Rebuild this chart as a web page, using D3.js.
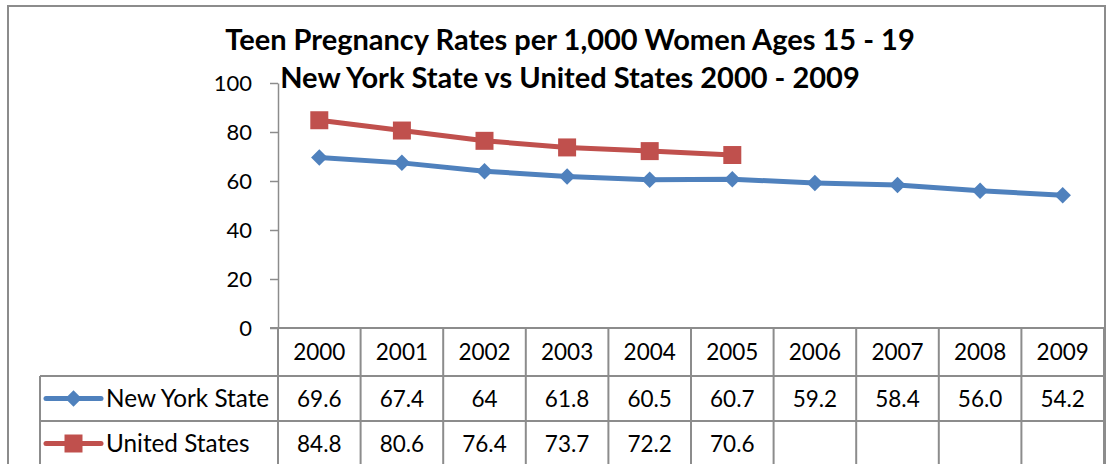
<!DOCTYPE html>
<html>
<head>
<meta charset="utf-8">
<script src="https://cdn.jsdelivr.net/npm/d3@7"></script>
<style>
  html, body { margin: 0; padding: 0; background: #fff; }
  svg { display: block; }
  text { font-family: Lato, "Open Sans", sans-serif; fill: #000; }
</style>
</head>
<body>
<svg id="chart" width="1110" height="464"></svg>
<script>
const titleLines = ["Teen Pregnancy Rates per 1,000 Women Ages 15 - 19",
                    "New York State vs United States 2000 - 2009"];
const years = ["2000","2001","2002","2003","2004","2005","2006","2007","2008","2009"];
const seriesNames = ["New York State", "United States"];
const nyValues = [69.6, 67.4, 64, 61.8, 60.5, 60.7, 59.2, 58.4, 56.0, 54.2];
const usValues = [84.8, 80.6, 76.4, 73.7, 72.2, 70.6, null, null, null, null];
const nyLabels = ["69.6","67.4","64","61.8","60.5","60.7","59.2","58.4","56.0","54.2"];
const usLabels = ["84.8","80.6","76.4","73.7","72.2","70.6","","","",""];
const yTicks = [0, 20, 40, 60, 80, 100];

const colors = ["#4F81BD", "#C0504D"];
const gridColor = "#8C8C8C";

const svg = d3.select("#chart");

const plotLeft = 278, plotRight = 1104, plotTop = 83, plotBottom = 328;
const rowH = [48, 45, 45];

const x = d3.scaleBand().domain(years).range([plotLeft, plotRight]);
const y = d3.scaleLinear().domain([0, 100]).range([plotBottom, plotTop]);

// outer border
svg.append("rect").attr("x", 8).attr("y", 6).attr("width", 1097).attr("height", 500)
  .attr("fill", "none").attr("stroke", "#8C8C8C").attr("stroke-width", 2);

// title
const title = svg.append("g");
title.selectAll("text").data(titleLines).join("text")
  .attr("x", 570).attr("y", (d, i) => 50 + i * 38)
  .attr("text-anchor", "middle")
  .attr("font-weight", "bold").attr("font-size", 29)
  .text(d => d);

// y axis
const yAxis = svg.append("g").attr("transform", `translate(${plotLeft},0)`)
  .call(d3.axisLeft(y).tickValues(yTicks).tickSize(8).tickPadding(18).tickSizeOuter(0));
yAxis.select(".domain").attr("stroke", gridColor).attr("stroke-width", 1.5);
yAxis.selectAll(".tick line").attr("stroke", gridColor).attr("stroke-width", 1.5);
yAxis.selectAll(".tick text").attr("font-size", 22).attr("font-family", "Lato").attr("fill", "#000");

// table lines
const tbl = svg.append("g").attr("stroke", gridColor).attr("stroke-width", 2);
const rowTop = [plotBottom, plotBottom + rowH[0], plotBottom + rowH[0] + rowH[1]];
const tableBottom = rowTop[2] + rowH[2];
tbl.append("line").attr("x1", plotLeft - 8).attr("x2", plotRight).attr("y1", plotBottom).attr("y2", plotBottom);
tbl.selectAll("line.h").data([rowTop[1], rowTop[2], tableBottom]).join("line").attr("class", "h")
  .attr("x1", 40).attr("x2", plotRight).attr("y1", d => d).attr("y2", d => d);
const vx = years.map(d => x(d)).concat([plotRight]);
tbl.selectAll("line.v").data(vx).join("line").attr("class", "v")
  .attr("x1", d => d).attr("x2", d => d).attr("y1", plotBottom).attr("y2", tableBottom);
tbl.append("line").attr("x1", 40).attr("x2", 40).attr("y1", rowTop[1]).attr("y2", tableBottom);

// header years
svg.append("g").selectAll("text").data(years).join("text")
  .attr("x", d => x(d) + x.bandwidth() / 2).attr("y", rowTop[0] + rowH[0] / 2)
  .attr("dy", "0.36em").attr("text-anchor", "middle").attr("font-size", 22.5)
  .text(d => d);

// value rows
[nyLabels, usLabels].forEach((labels, r) => {
  const cy = rowTop[r + 1] + rowH[r + 1] / 2;
  svg.append("g").selectAll("text").data(labels).join("text")
    .attr("x", (d, i) => x(years[i]) + x.bandwidth() / 2).attr("y", cy)
    .attr("dy", "0.36em").attr("text-anchor", "middle").attr("font-size", 22.5)
    .text(d => d);
});

// marker generators
const diamond = d3.symbol().type(d3.symbolSquare).size(136);
const square = d3.symbol().type(d3.symbolSquare).size(324);
const markers = [
  sel => sel.attr("d", diamond).attr("transform", d => `translate(${d[0]},${d[1]}) rotate(45)`),
  sel => sel.attr("d", square).attr("transform", d => `translate(${d[0]},${d[1]})`)
];

// legend keys in table
seriesNames.forEach((name, r) => {
  const cy = rowTop[r + 1] + rowH[r + 1] / 2;
  const g = svg.append("g");
  g.append("line").attr("x1", 46).attr("x2", 101).attr("y1", cy).attr("y2", cy)
    .attr("stroke", colors[r]).attr("stroke-width", 5).attr("stroke-linecap", "round");
  g.append("path").datum([73.5, cy]).call(markers[r]).attr("fill", colors[r]);
  g.append("text").attr("x", 106).attr("y", cy).attr("dy", "0.36em").attr("font-size", 24.3).text(name);
});

// series lines
const line = d3.line().defined(d => d.v != null)
  .x(d => x(d.year) + x.bandwidth() / 2).y(d => y(d.v));
[nyValues, usValues].forEach((vals, s) => {
  const pts = vals.map((v, i) => ({ year: years[i], v }));
  svg.append("path").datum(pts).attr("d", line)
    .attr("fill", "none").attr("stroke", colors[s]).attr("stroke-width", 5)
    .attr("stroke-linejoin", "round").attr("stroke-linecap", "round");
  svg.append("g").selectAll("path").data(pts.filter(p => p.v != null)
      .map(p => [x(p.year) + x.bandwidth() / 2, y(p.v)]))
    .join("path").call(markers[s]).attr("fill", colors[s]);
});
</script>
</body>
</html>
